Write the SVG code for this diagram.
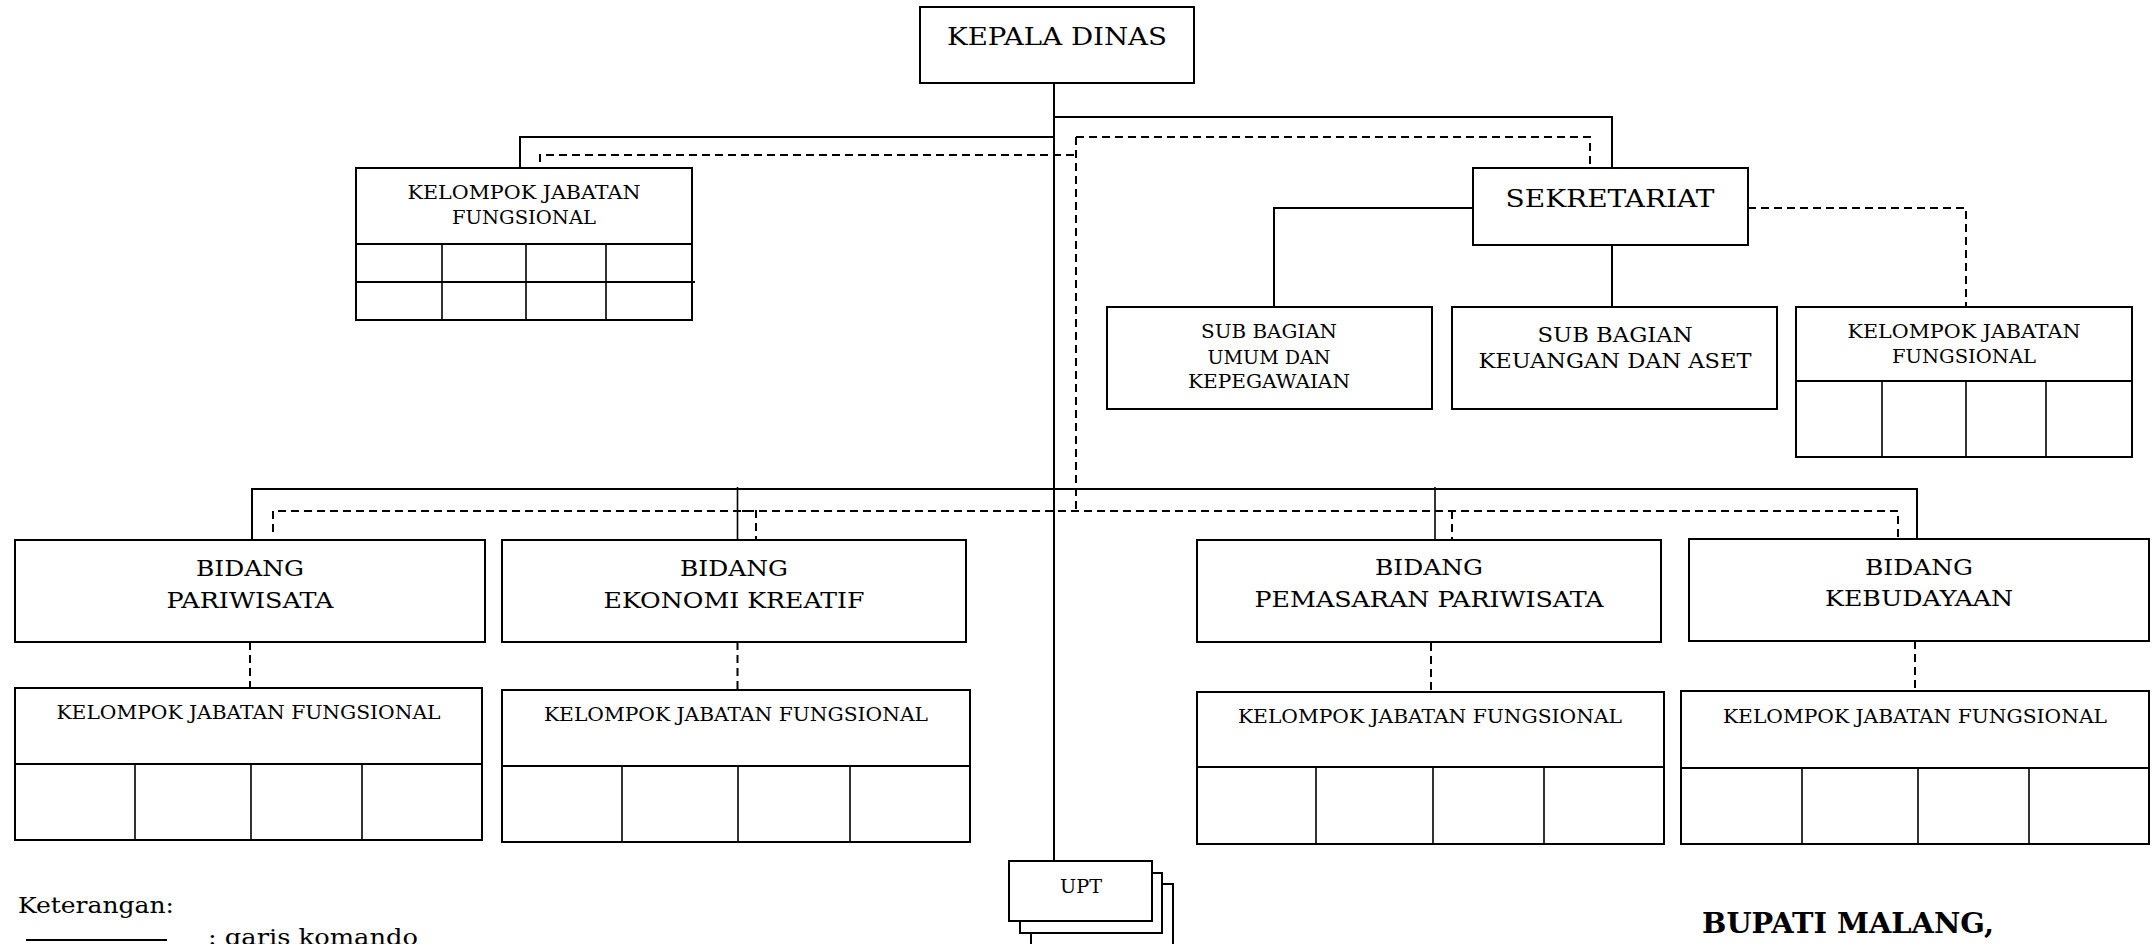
<svg xmlns="http://www.w3.org/2000/svg" width="2155" height="944" viewBox="0 0 2155 944">
<style>
.box{fill:#fff;stroke:#000;stroke-width:2}
.ln{fill:none;stroke:#000;stroke-width:2}
.thin{fill:none;stroke:#000;stroke-width:1.6}
.dash{fill:none;stroke:#000;stroke-width:2;stroke-dasharray:8 5}
text{font-family:"DejaVu Serif","Liberation Serif",serif;fill:#000}
.c{text-anchor:middle}
.big{font-size:25px}
.mid{font-size:23px}
.sm{font-size:18px}
</style>
<rect width="2155" height="944" fill="#fff"/>
<g id="connectors">
<path class="ln" d="M1054,83 V861"/>
<path class="ln" d="M1054,117 H1612 V168"/>
<path class="ln" d="M1054,137 H520 V168"/>
<path class="ln" d="M1473,208 H1274 V307"/>
<path class="ln" d="M1612,245 V307"/>
<path class="ln" d="M252,540 V489 H1917 V539"/>
<path class="thin" d="M737.5,487 V540"/>
<path class="thin" d="M1435,487 V540"/>
<path class="dash" d="M1076,137 H1590 V168"/>
<path class="dash" d="M540,162 V155 H1076"/>
<path class="dash" d="M1076,137 V511"/>
<path class="dash" d="M273,532 V511 H1898 V539"/>
<path class="dash" d="M742,511 H756 V540"/>
<path class="dash" d="M1452,511 V540"/>
<path class="dash" d="M1748,208 H1966 V307"/>
<path class="dash" d="M250,642 V688"/>
<path class="dash" d="M737.5,642 V690"/>
<path class="dash" d="M1431,643 V692"/>
<path class="dash" d="M1915,641 V691"/>
</g>
<g id="kepala-dinas">
<rect class="box" x="920" y="7" width="274" height="76"/>
<text class="c big" x="1057" y="45" textLength="220" lengthAdjust="spacingAndGlyphs">KEPALA DINAS</text>
</g>
<g id="kjf-kepala">
<rect class="box" x="356" y="168" width="336" height="152"/>
<path class="ln" d="M356,244 H692 M356,282 H695"/>
<path class="thin" d="M442,244 V320 M526,244 V320 M606,244 V320"/>
<text class="c sm" x="524" y="199" textLength="233" lengthAdjust="spacingAndGlyphs">KELOMPOK JABATAN</text>
<text class="c sm" x="524" y="224" textLength="144" lengthAdjust="spacingAndGlyphs">FUNGSIONAL</text>
</g>
<g id="sekretariat">
<rect class="box" x="1473" y="168" width="275" height="77"/>
<text class="c big" x="1610" y="207" textLength="209" lengthAdjust="spacingAndGlyphs">SEKRETARIAT</text>
</g>
<g id="sub-umum">
<rect class="box" x="1107" y="307" width="325" height="102"/>
<text class="c sm" x="1269" y="338" textLength="136" lengthAdjust="spacingAndGlyphs">SUB BAGIAN</text>
<text class="c sm" x="1269" y="364" textLength="123" lengthAdjust="spacingAndGlyphs">UMUM DAN</text>
<text class="c sm" x="1269" y="388" textLength="162" lengthAdjust="spacingAndGlyphs">KEPEGAWAIAN</text>
</g>
<g id="sub-keuangan">
<rect class="box" x="1452" y="307" width="325" height="102"/>
<text class="c" style="font-size:21px" x="1615" y="342" textLength="155" lengthAdjust="spacingAndGlyphs">SUB BAGIAN</text>
<text class="c" style="font-size:21px" x="1615" y="368" textLength="273" lengthAdjust="spacingAndGlyphs">KEUANGAN DAN ASET</text>
</g>
<g id="kjf-sekretariat">
<rect class="box" x="1796" y="307" width="336" height="150"/>
<path class="ln" d="M1796,381 H2132"/>
<path class="thin" d="M1882,381 V457 M1966,381 V457 M2046,381 V457"/>
<text class="c sm" x="1964" y="338" textLength="233" lengthAdjust="spacingAndGlyphs">KELOMPOK JABATAN</text>
<text class="c sm" x="1964" y="363" textLength="144" lengthAdjust="spacingAndGlyphs">FUNGSIONAL</text>
</g>
<g id="bidang-pariwisata">
<rect class="box" x="15" y="540" width="470" height="102"/>
<text class="c mid" x="250" y="576" textLength="108" lengthAdjust="spacingAndGlyphs">BIDANG</text>
<text class="c mid" x="250" y="608" textLength="167" lengthAdjust="spacingAndGlyphs">PARIWISATA</text>
</g>
<g id="kjf-pariwisata">
<rect class="box" x="15" y="688" width="467" height="152"/>
<path class="ln" d="M15,764 H482"/>
<path class="thin" d="M135,764 V840 M251,764 V840 M362,764 V840"/>
<text class="c sm" x="248.5" y="719" textLength="384" lengthAdjust="spacingAndGlyphs">KELOMPOK JABATAN FUNGSIONAL</text>
</g>
<g id="bidang-ekonomi">
<rect class="box" x="502" y="540" width="464" height="102"/>
<text class="c mid" x="734" y="576" textLength="108" lengthAdjust="spacingAndGlyphs">BIDANG</text>
<text class="c mid" x="734" y="608" textLength="261" lengthAdjust="spacingAndGlyphs">EKONOMI KREATIF</text>
</g>
<g id="kjf-ekonomi">
<rect class="box" x="502" y="690" width="468" height="152"/>
<path class="ln" d="M502,766 H970"/>
<path class="thin" d="M622,766 V842 M738,766 V842 M850,766 V842"/>
<text class="c sm" x="736" y="721" textLength="384" lengthAdjust="spacingAndGlyphs">KELOMPOK JABATAN FUNGSIONAL</text>
</g>
<g id="bidang-pemasaran">
<rect class="box" x="1197" y="540" width="464" height="102"/>
<text class="c mid" x="1429" y="575" textLength="108" lengthAdjust="spacingAndGlyphs">BIDANG</text>
<text class="c mid" x="1429" y="607" textLength="349" lengthAdjust="spacingAndGlyphs">PEMASARAN PARIWISATA</text>
</g>
<g id="kjf-pemasaran">
<rect class="box" x="1197" y="692" width="467" height="152"/>
<path class="ln" d="M1197,767 H1664"/>
<path class="thin" d="M1316,767 V844 M1433,767 V844 M1544,767 V844"/>
<text class="c sm" x="1430" y="723" textLength="384" lengthAdjust="spacingAndGlyphs">KELOMPOK JABATAN FUNGSIONAL</text>
</g>
<g id="bidang-kebudayaan">
<rect class="box" x="1689" y="539" width="460" height="102"/>
<text class="c mid" x="1919" y="575" textLength="108" lengthAdjust="spacingAndGlyphs">BIDANG</text>
<text class="c mid" x="1919" y="606" textLength="188" lengthAdjust="spacingAndGlyphs">KEBUDAYAAN</text>
</g>
<g id="kjf-kebudayaan">
<rect class="box" x="1681" y="691" width="468" height="153"/>
<path class="ln" d="M1681,768 H2149"/>
<path class="thin" d="M1802,768 V844 M1918,768 V844 M2029,768 V844"/>
<text class="c sm" x="1915" y="723" textLength="384" lengthAdjust="spacingAndGlyphs">KELOMPOK JABATAN FUNGSIONAL</text>
</g>
<g id="upt">
<path class="ln" d="M1162,884 H1173 V950 M1031,933 V950"/>
<path class="ln" d="M1152,873 H1162 V933 H1020 V921"/>
<rect class="box" x="1009" y="861" width="143" height="60"/>
<text class="c sm" x="1081" y="893" textLength="42" lengthAdjust="spacingAndGlyphs">UPT</text>
</g>
<g id="legend">
<text style="font-size:23px" x="18" y="913" textLength="156" lengthAdjust="spacingAndGlyphs">Keterangan:</text>
<path class="ln" d="M26,940 H167"/>
<text style="font-size:23px" x="208" y="945" textLength="210" lengthAdjust="spacingAndGlyphs">: garis komando</text>
</g>
<g id="signature">
<text style="font-size:27px;font-weight:bold" x="1702" y="933" textLength="292" lengthAdjust="spacingAndGlyphs">BUPATI MALANG,</text>
</g>
</svg>
